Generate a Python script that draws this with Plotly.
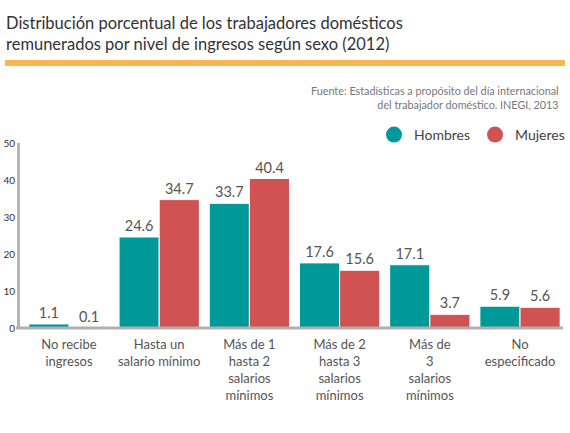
import plotly.graph_objects as go

categories = [
    "No recibe<br>ingresos",
    "Hasta un<br>salario mínimo",
    "Más de 1<br>hasta 2<br>salarios<br>mínimos",
    "Más de 2<br>hasta 3<br>salarios<br>mínimos",
    "Más de<br>3<br>salarios<br>mínimos",
    "No<br>especificado",
]
hombres = [1.1, 24.6, 33.7, 17.6, 17.1, 5.9]
mujeres = [0.1, 34.7, 40.4, 15.6, 3.7, 5.6]
y_ticks = [0, 10, 20, 30, 40, 50]

TEAL = "#009999"
RED = "#D05252"
FONT = "Lato, 'Open Sans', sans-serif"

T, B, L, R = 143, 105, 20, 0
PH = 433 - T - B
PW = 570 - L - R


def py(pix):
    return 1 + (T - pix) / PH


def px(pix):
    return (pix - L) / PW


fig = go.Figure()
for name, vals, col in [("Hombres", hombres, TEAL), ("Mujeres", mujeres, RED)]:
    fig.add_trace(go.Bar(
        x=categories, y=vals, name=name, showlegend=False,
        marker=dict(color=col, line=dict(color="white", width=1)),
        text=[f"{v:.1f}" for v in vals], textposition="outside",
        textfont=dict(family=FONT, size=14.5, color="#555555"),
        cliponaxis=False,
    ))
    fig.add_trace(go.Scatter(
        x=[None], y=[None], mode="markers", name=name,
        marker=dict(color=col, size=17, symbol="circle"),
    ))

fig.update_layout(
    width=570, height=433,
    margin=dict(l=L, r=R, t=T, b=B),
    paper_bgcolor="white", plot_bgcolor="white",
    barmode="group", bargap=0.11, bargroupgap=0,
    font=dict(family=FONT, color="#555555"),
    showlegend=True,
    legend=dict(orientation="h", x=1.0, xanchor="right", y=py(135), yanchor="middle",
                font=dict(family=FONT, size=14, color="#444444"),
                itemsizing="trace", tracegroupgap=0, itemwidth=30),
    xaxis=dict(range=[-0.543, 5.554], showline=False, ticklabelstandoff=7,
               ticks="", tickfont=dict(family=FONT, size=13, color="#555555"),
               showgrid=False, zeroline=False),
    yaxis=dict(range=[0, 50], tickvals=y_ticks, showline=True, linecolor="#b5b5b5",
               linewidth=3, showgrid=False, zeroline=False, ticks="",
               tickfont=dict(family=FONT, size=10, color="#333333")),
)

# bottom axis line (stops short of the right edge, as in the reference)
fig.add_shape(type="line", xref="paper", yref="paper",
              x0=px(16), x1=px(563), y0=0, y1=0,
              line=dict(color="#b0b0b0", width=3))

fig.add_annotation(
    text="Distribución porcentual de los trabajadores domésticos<br>remunerados por nivel de ingresos según sexo (2012)",
    xref="paper", yref="paper", x=px(4), y=py(11), xanchor="left", yanchor="top",
    showarrow=False, align="left",
    font=dict(family=FONT, size=16.5, color="#333333"),
)
fig.add_shape(type="rect", xref="paper", yref="paper",
              x0=px(5), x1=px(565), y0=py(66), y1=py(60),
              fillcolor="#F9B54F", line=dict(width=0))
fig.add_annotation(
    text="Fuente: Estadísticas a propósito del día internacional<br>del trabajador doméstico. INEGI, 2013",
    xref="paper", yref="paper", x=px(561), y=py(82),
    xanchor="right", yanchor="top", showarrow=False, align="right",
    font=dict(family=FONT, size=10.8, color="#777777"),
)

fig.write_html("out.html", config={"displayModeBar": False})
with open("out.html", encoding="utf-8") as f:
    html = f.read()
html = html.replace("<head>", "<head><style>html,body{margin:0;padding:0;overflow:hidden;}</style>", 1)
with open("out.html", "w", encoding="utf-8") as f:
    f.write(html)
